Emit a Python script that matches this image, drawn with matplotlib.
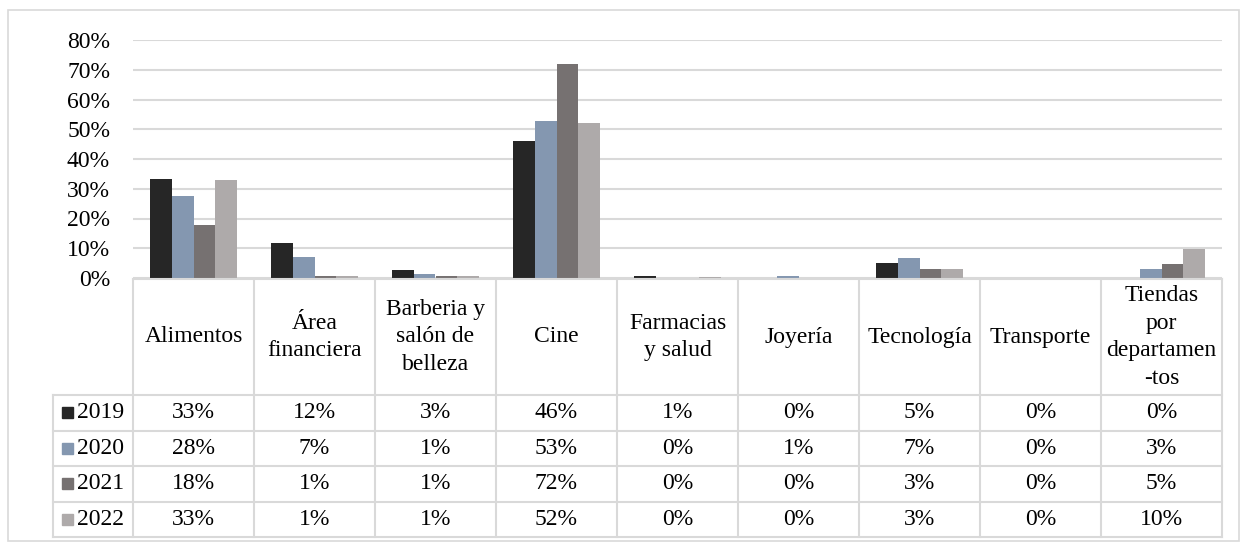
import matplotlib.pyplot as plt
import numpy as np

# --- data (percent) ---
categories = ["Alimentos", "Área\nfinanciera", "Barberia y\nsalón de\nbelleza", "Cine",
              "Farmacias\ny salud", "Joyería", "Tecnología", "Transporte",
              "Tiendas\npor\ndepartamen\n-tos"]
years = ["2019", "2020", "2021", "2022"]
v2019 = [33.2, 11.6, 2.6, 46.0, 0.8, 0.0, 5.0, 0.0, 0.0]
v2020 = [27.7, 7.1, 1.2, 52.7, 0.0, 0.6, 6.7, 0.0, 3.0]
v2021 = [17.7, 0.7, 0.7, 71.8, 0.0, 0.0, 3.1, 0.0, 4.6]
v2022 = [33.0, 0.6, 0.6, 52.1, 0.3, 0.0, 3.1, 0.0, 9.6]
series = [v2019, v2020, v2021, v2022]
colors = ["#262626", "#8497b0", "#767171", "#aeaaaa"]
yticks = [0, 10, 20, 30, 40, 50, 60, 70, 80]

plt.rcParams['font.family'] = ['Liberation Serif', 'DejaVu Serif']
FS = 17
GRID = "#d9d9d9"

W, H = 1247, 544
fig = plt.figure(figsize=(W / 100, H / 100), dpi=100)


def box(x0, y0, x1, y1):
    # pixel box (top-left origin) -> figure fraction
    return [x0 / W, 1 - y1 / H, (x1 - x0) / W, (y1 - y0) / H]


# --- layout in pixels ---
px_left, px_right = 133, 1222
px_top, px_zero = 40, 278
col_w = (px_right - px_left) / len(categories)
lab_left = 53
head_top, head_bot = 279, 395
row_h = 35.5

# --- bar chart ---
ax = fig.add_axes(box(px_left, px_top, px_right, px_zero))
x = np.arange(len(categories))
bw = 0.18
for i, (vals, c) in enumerate(zip(series, colors)):
    ax.bar(x + (i - 1.5) * bw, vals, bw, color=c, edgecolor="none", zorder=3)
ax.set_xlim(-0.5, len(categories) - 0.5)
ax.set_ylim(0, 80)
ax.set_yticks(yticks)
ax.set_yticklabels([f"{t}%" for t in yticks], fontsize=FS)
ax.tick_params(axis="y", length=0, pad=16.5)
ax.set_xticks([])
ax.yaxis.grid(True, color=GRID, linewidth=1.5, zorder=0)
for s in ax.spines.values():
    s.set_visible(False)

# --- data table (drawn in pixel coordinates) ---
tb = fig.add_axes([0, 0, 1, 1])
tb.set_xlim(0, W)
tb.set_ylim(H, 0)
tb.axis("off")

# outer border
tb.add_patch(plt.Rectangle((8, 10), 1231, 531, fill=False, edgecolor=GRID, linewidth=1.2))

table_bot = head_bot + row_h * len(years)
lw = 1.5
# header top
tb.plot([px_left, px_right], [head_top, head_top], color=GRID, lw=lw)
# row lines
for r in range(len(years) + 1):
    yy = head_bot + r * row_h
    tb.plot([lab_left, px_right], [yy, yy], color=GRID, lw=lw)
# column lines
for cidx in range(len(categories) + 1):
    xx = px_left + cidx * col_w
    tb.plot([xx, xx], [head_top, table_bot], color=GRID, lw=lw)
tb.plot([lab_left, lab_left], [head_bot, table_bot], color=GRID, lw=lw)

# header text
for cidx, name in enumerate(categories):
    xc = px_left + (cidx + 0.5) * col_w
    tb.text(xc, (head_top + head_bot) / 2, name, ha="center", va="center",
            fontsize=FS, linespacing=1.4)

# rows
for r, (yr, vals, c) in enumerate(zip(years, series, colors)):
    yc = head_bot + (r + 0.5) * row_h
    tb.add_patch(plt.Rectangle((62, yc - 5.5), 11, 11, color=c))
    tb.text(77, yc, yr, ha="left", va="center", fontsize=FS)
    for cidx, v in enumerate(vals):
        xc = px_left + (cidx + 0.5) * col_w
        tb.text(xc, yc, f"{int(round(v))}%", ha="center", va="center", fontsize=FS)

fig.savefig("out.png", dpi=100)
